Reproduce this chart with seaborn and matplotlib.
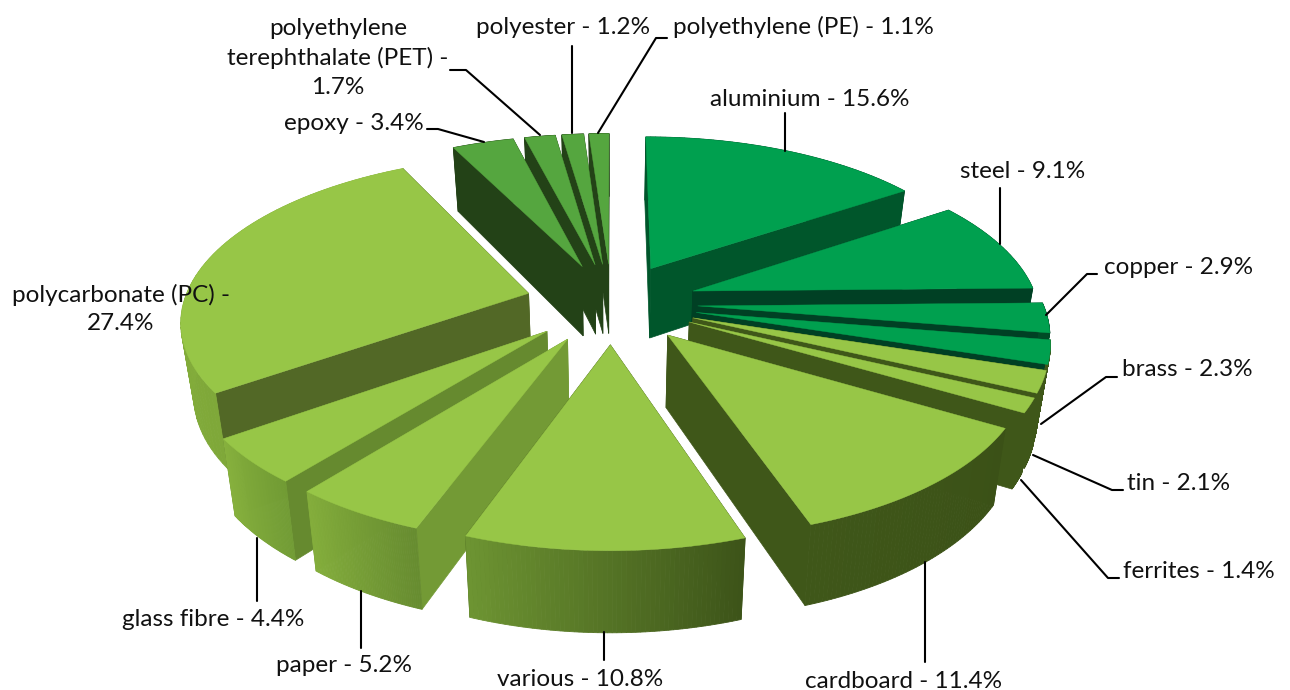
import numpy as np
import matplotlib
matplotlib.use("Agg")
import matplotlib.pyplot as plt
import seaborn as sns

# shares in percent, clockwise from 12 o'clock
materials = ["aluminium", "steel", "copper", "brass", "tin", "ferrites", "cardboard", "various",
             "paper", "glass fibre", "polycarbonate (PC)", "epoxy",
             "polyethylene terephthalate (PET)", "polyester", "polyethylene (PE)"]
shares = [15.6, 9.1, 2.9, 2.3, 2.1, 1.4, 11.4, 10.8, 5.2, 4.4, 27.4, 3.4, 1.7, 1.2, 1.1]
groups = ["metal", "metal", "metal", "metal", "fibre", "fibre", "fibre", "fibre",
          "fibre", "fibre", "fibre", "plastic", "plastic", "plastic", "plastic"]

# label text, anchor and leader line in picture pixels
label_text = ["aluminium - 15.6%", "steel - 9.1%", "copper - 2.9%", "brass - 2.3%", "tin - 2.1%",
              "ferrites - 1.4%", "cardboard - 11.4%", "various - 10.8%", "paper - 5.2%",
              "glass fibre - 4.4%", "polycarbonate (PC) -\n27.4%", "epoxy - 3.4%",
              "polyethylene\nterephthalate (PET) -\n1.7%", "polyester - 1.2%",
              "polyethylene (PE) - 1.1%"]
label_pos = [(810, 99), (1023, 172), (1179, 267), (1187, 370), (1179, 483), (1199, 572), (904, 681),
             (580, 679), (344, 666), (213, 620), (121, 309), (354, 123), (338, 58), (563, 27), (803, 27)]
leaders = [[(785, 113), (785, 151)], [(1000, 188), (1000, 244)],
           [(1097, 274), (1087, 274), (1046, 315)], [(1117, 377), (1106, 377), (1041, 424)],
           [(1123, 490), (1112, 490), (1033, 455)], [(1119, 578), (1108, 578), (1021, 480)],
           [(925, 662), (925, 562)], [(604, 660), (604, 632)], [(361, 648), (361, 591)],
           [(257, 601), (257, 538)], None, [(427, 129), (438, 129), (484, 142)],
           [(450, 70), (466, 70), (540, 135)], [(572, 46), (572, 133)], [(667, 38), (656, 38), (598, 133)]]

top_colors = {"metal": "#00A04F", "fibre": "#97C647", "plastic": "#55A63F"}
# outer wall left/right gradient and the colour of the cut face
wall_left = ["#00502A", "#00502A", "#004A26", "#3F5719", "#3F5719", "#3F5719", "#3F5719", "#6D9432",
             "#84AE3C", "#86B03D", "#8CB73F", "#234217", "#234217", "#234217", "#234217"]
wall_right = ["#00502A", "#00502A", "#004A26", "#3F5719", "#3F5719", "#3F5719", "#3B5117", "#3D5419",
              "#678C30", "#729C35", "#7FA839", "#234217", "#234217", "#234217", "#234217"]
cut_colors = ["#00562B", "#004024", "#004024", "#004024", "#3F5719", "#3F5719", "#3F5719", "#3F5719",
              "#739A35", "#668A2F", "#526826", "#234217", "#234217", "#234217", "#234217"]

CX, CY = 611.5, 303
RX, RY = 345, 161
PERSP = 0.15
EXPLODE = 0.25
DEPTH = 71
TAPER = 0.97


def project(x, y, level=0):
    s = 1 / (1 - PERSP * y)
    px = RX * x * s
    py = RY * y * s + level * DEPTH * s ** 0.7
    return CX + px * (TAPER if level else 1), CY + py


def wedge_points(t1, t2, n=60):
    mid = (t1 + t2) / 2
    ox, oy = EXPLODE * np.sin(mid), -EXPLODE * np.cos(mid)
    t = np.linspace(t1, t2, n)
    return ox, oy, t, ox + np.sin(t), oy - np.cos(t)


def draw_wall(ax, t, rx, ry, i, front):
    # outer wall, one strip per step so the gradient runs along it
    steps = len(rx) - 1
    shades = sns.blend_palette([wall_right[i], wall_left[i]], steps)
    for j in range(steps):
        if (np.cos(t[j]) < 0) != front:
            continue
        a, b = project(rx[j], ry[j]), project(rx[j + 1], ry[j + 1])
        c, d = project(rx[j + 1], ry[j + 1], 1), project(rx[j], ry[j], 1)
        ax.fill(*zip(a, b, c, d), color=shades[j], lw=0.6)


def draw_wedge(ax, i, t1, t2):
    ox, oy, t, rx, ry = wedge_points(t1, t2)

    draw_wall(ax, t, rx, ry, i, False)
    for k in (0, -1):
        a, b = project(ox, oy), project(rx[k], ry[k])
        c, d = project(rx[k], ry[k], 1), project(ox, oy, 1)
        ax.fill(*zip(a, b, c, d), color=cut_colors[i], lw=0.5)
    draw_wall(ax, t, rx, ry, i, True)

    px, py = project(np.r_[ox, rx], np.r_[oy, ry])
    ax.fill(px, py, color=top_colors[groups[i]], lw=0.3)


def main():
    sns.set_theme(style="white")
    plt.rcParams["font.family"] = ["Lato", "DejaVu Sans"]

    fig = plt.figure(figsize=(12.9, 6.9), dpi=100)
    ax = fig.add_axes([0, 0, 1, 1])
    ax.set_xlim(0, 1290)
    ax.set_ylim(690, 0)
    ax.axis("off")

    edges = np.radians(np.r_[0, np.cumsum(shares)] * 3.6)
    mids = (edges[:-1] + edges[1:]) / 2

    # back wedges first
    for i in np.argsort(-np.cos(mids)):
        draw_wedge(ax, i, edges[i], edges[i + 1])

    for line in leaders:
        if line:
            xs, ys = zip(*line)
            ax.plot(xs, ys, color="black", lw=1.5)

    for text, (x, y) in zip(label_text, label_pos):
        ax.text(x, y, text, ha="center", va="center", fontsize=17.5, color="#111111",
                linespacing=1.43)

    fig.savefig("out.png", dpi=100)


if __name__ == "__main__":
    main()
